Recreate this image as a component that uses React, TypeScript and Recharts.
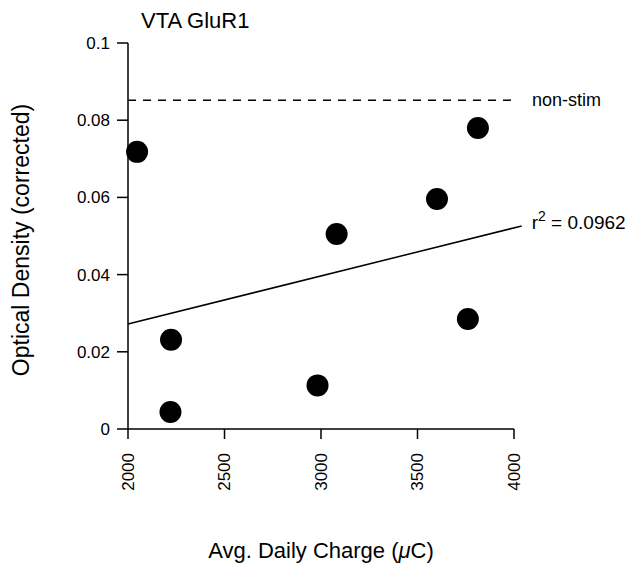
import React from "react";
import {
  ScatterChart,
  Scatter,
  XAxis,
  YAxis,
  ReferenceLine,
  Label,
} from "recharts";

const charge = [2047, 2223, 2220, 2982, 3081, 3601, 3761, 3813];
const density = [0.0718, 0.0231, 0.0044, 0.0113, 0.0505, 0.0596, 0.0285, 0.078];
const xTicks = [2000, 2500, 3000, 3500, 4000];
const yTicks = [0, 0.02, 0.04, 0.06, 0.08, 0.1];
const fitX = [2000, 4040];
const fitY = [0.0272, 0.0526];
const nonStimX = [2000, 4000];
const nonStimY = 0.0852;

const points = charge.map((x, i) => ({ x, y: density[i] }));

const font = "'Liberation Sans', Arial, Helvetica, sans-serif";

const Dot = (props: any) => (
  <circle cx={props.cx} cy={props.cy} r={11} fill="#000" />
);

// rotated tick labels reading bottom-to-top
const XTick = (props: any) => {
  const { x, payload } = props;
  const top = 453;
  return (
    <text
      x={x}
      y={top}
      transform={`rotate(-90 ${x} ${top})`}
      textAnchor="end"
      dy="0.35em"
      fontSize={17}
      fontFamily={font}
      fill="#000"
    >
      {payload.value}
    </text>
  );
};

export default function App() {
  return (
    <div style={{ position: "absolute", left: 0, top: 0 }}>
      <ScatterChart
        width={632}
        height={565}
        margin={{ top: 43, right: 118, left: 0, bottom: 0 }}
      >
        <XAxis
          type="number"
          dataKey="x"
          domain={[2000, 4000]}
          ticks={xTicks}
          height={136}
          tick={<XTick />}
          tickSize={10}
          axisLine={{ stroke: "#000", strokeWidth: 1.5 }}
          tickLine={{ stroke: "#000", strokeWidth: 1.5 }}
        >
          <Label
            content={(p: any) => (
              <text
                x={p.viewBox.x + p.viewBox.width / 2}
                y={558}
                textAnchor="middle"
                fontSize={22}
                fontFamily={font}
                fill="#000"
              >
                Avg. Daily Charge (<tspan fontStyle="italic">μ</tspan>C)
              </text>
            )}
          />
        </XAxis>
        <YAxis
          type="number"
          dataKey="y"
          domain={[0, 0.1]}
          ticks={yTicks}
          width={128}
          tickSize={11}
          tickMargin={7}
          tick={{ fontSize: 17, fontFamily: font, fill: "#000" }}
          axisLine={{ stroke: "#000", strokeWidth: 1.5 }}
          tickLine={{ stroke: "#000", strokeWidth: 1.5 }}
        >
          <Label
            content={() => (
              <text
                x={29}
                y={240}
                transform="rotate(-90 29 240)"
                textAnchor="middle"
                fontSize={23}
                fontFamily={font}
                fill="#000"
              >
                Optical Density (corrected)
              </text>
            )}
          />
        </YAxis>
        <ReferenceLine
          segment={[
            { x: nonStimX[0], y: nonStimY },
            { x: nonStimX[1], y: nonStimY },
          ]}
          stroke="#000"
          strokeWidth={1.5}
          strokeDasharray="8 7"
          ifOverflow="visible"
          label={(p: any) => (
            <text
              x={p.viewBox.x + p.viewBox.width + 18}
              y={p.viewBox.y}
              dominantBaseline="central"
              fontSize={18}
              fontFamily={font}
              fill="#000"
            >
              non-stim
            </text>
          )}
        />
        <ReferenceLine
          segment={[
            { x: fitX[0], y: fitY[0] },
            { x: fitX[1], y: fitY[1] },
          ]}
          stroke="#000"
          strokeWidth={1.5}
          ifOverflow="visible"
          label={(p: any) => (
            <text
              x={p.viewBox.x + p.viewBox.width + 10}
              y={p.viewBox.y + 3}
              fontSize={19}
              fontFamily={font}
              fill="#000"
            >
              r
              <tspan dy={-8} fontSize={14}>
                2
              </tspan>
              <tspan dy={8}> = 0.0962</tspan>
            </text>
          )}
        />
        <Scatter data={points} shape={<Dot />} isAnimationActive={false} />
        <text x={141} y={28} fontSize={22} fontFamily={font} fill="#000">
          VTA GluR1
        </text>
      </ScatterChart>
    </div>
  );
}
